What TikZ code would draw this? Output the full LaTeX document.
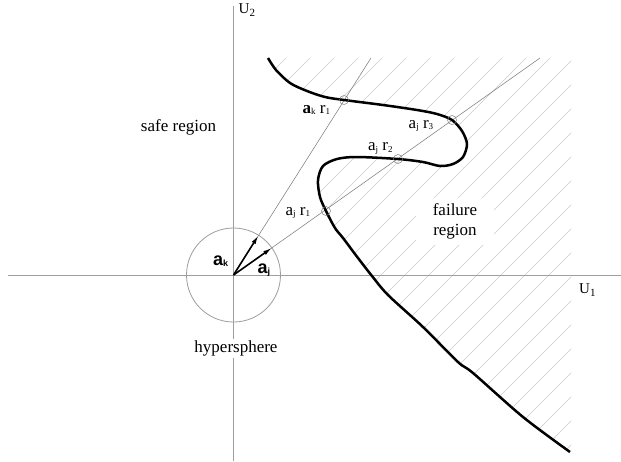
\documentclass[tikz,border=0pt]{standalone}
\usepackage{fontspec}
\setmainfont{Liberation Serif}
\setsansfont{Liberation Sans}
\usetikzlibrary{arrows.meta}
\definecolor{axisgray}{gray}{0.62}
\definecolor{raygray}{gray}{0.5}
\definecolor{hatchgray}{gray}{0.8}
\newcommand\lsub[1]{\raisebox{-1.5pt}{\fontsize{9}{9}\selectfont #1}}
\newcommand\usub[1]{\raisebox{-3pt}{\fontsize{11}{11}\selectfont #1}}
\tikzset{
  axisline/.style={draw=axisgray, line width=0.9pt},
  rayline/.style={draw=raygray, line width=0.55pt},
  hatchline/.style={draw=hatchgray, line width=0.6pt},
  limitcurve/.style={draw=black, line width=2.5pt, line join=round},
  vec/.style={draw=black, line width=1.6pt, -{Latex[length=9pt,width=4.5pt]}},
  hit/.style={draw=raygray, line width=0.5pt},
  bigtext/.style={font=\fontsize{17}{20}\selectfont, inner sep=2pt},
  smalllab/.style={font=\fontsize{17}{19}\selectfont, inner sep=0pt, anchor=base west},
  veclab/.style={font=\fontsize{18}{20}\selectfont\sffamily\bfseries, inner sep=0pt, anchor=base west},
  axislab/.style={font=\fontsize{15}{17}\selectfont, inner sep=2pt, anchor=base west},
}
\begin{document}
\begin{tikzpicture}[x=1pt,y=-1pt]
\fill[white] (0,0) rectangle (621,461);
\useasboundingbox (0,0) rectangle (621,461);

% hatching of the failure region
\begin{scope}
\clip plot[smooth, tension=0.5] coordinates {(268,58) (276,70) (290,83) (307,91) (325,97) (344,100) (383,105) (417,110) (437,114) (452,120) (462,131) (467,144) (463,157) (453,164) (440,166) (423,162) (398,159) (357,157) (337,159) (323,166) (318,180) (320,197) (326,211) (335,228) (343,238) (358,258) (372,276) (388,295) (423,327) (458,362) (473,373) (523,417) (570,452)} -- (571,452) -- (571,58) -- cycle;
\foreach \c in {320,344,...,1064} {
  \draw[hatchline] ({\c-480},480) -- ({\c-40},40);
}
\end{scope}

% axes
\coordinate (O) at (233.5,275);
\coordinate (xs) at (8,275);
\coordinate (xe) at (621,275);
\coordinate (ys) at (233.5,6);
\coordinate (ye) at (233.5,461);
\draw[axisline] (xs) -- (xe);
\draw[axisline] (ys) -- (ye);

% hypersphere
\draw[axisgray, line width=0.8pt] (O) circle[radius=47];

% rays
\coordinate (akend) at (371,58);
\coordinate (ajend) at (540,58);
\draw[rayline] (O) -- (akend);
\draw[rayline] (O) -- (ajend);

% vectors
\coordinate (aktip) at (258.5,235.3);
\coordinate (ajtip) at (272,247.8);
\draw[vec] (O) -- (aktip);
\draw[vec] (O) -- (ajtip);

% limit state curve
\draw[limitcurve] plot[smooth, tension=0.5] coordinates {(268,58) (276,70) (290,83) (307,91) (325,97) (344,100) (383,105) (417,110) (437,114) (452,120) (462,131) (467,144) (463,157) (453,164) (440,166) (423,162) (398,159) (357,157) (337,159) (323,166) (318,180) (320,197) (326,211) (335,228) (343,238) (358,258) (372,276) (388,295) (423,327) (458,362) (473,373) (523,417) (570,452)};

% intersection markers
\coordinate (pk1) at (344,100);
\coordinate (pj1) at (326,211);
\coordinate (pj2) at (398,159);
\coordinate (pj3) at (452,120);
\foreach \p in {pk1,pj1,pj2,pj3} \draw[hit] (\p) circle[radius=4.5];

% labels
\node[smalllab] (lk1) at (302.5,113) {\textbf{a}\lsub{k} r\lsub{1}};
\node[smalllab] (lj3) at (408.5,128) {a\lsub{j} r\lsub{3}};
\node[smalllab] (lj2) at (368,150.5) {a\lsub{j} r\lsub{2}};
\node[smalllab] (lj1) at (285.5,215) {a\lsub{j} r\lsub{1}};

\node[veclab] (vk) at (213,265) {a\lsub{k}};
\node[veclab] (vj) at (257.5,273) {a\lsub{j}};

\node[bigtext, anchor=base] (safe) at (178.5,131) {safe region};
\node[bigtext, anchor=base, fill=white] (hyp) at (236,352.5) {hypersphere};
\node[bigtext, align=center, fill=white, inner xsep=17pt, inner ysep=6pt] (fail) at (455,221.5) {failure\\region};

\node[axislab] (U2) at (236.5,13) {U\usub{2}};
\node[axislab, fill=white, inner sep=3pt] (U1) at (576,293) {U\usub{1}};
\end{tikzpicture}
\end{document}
